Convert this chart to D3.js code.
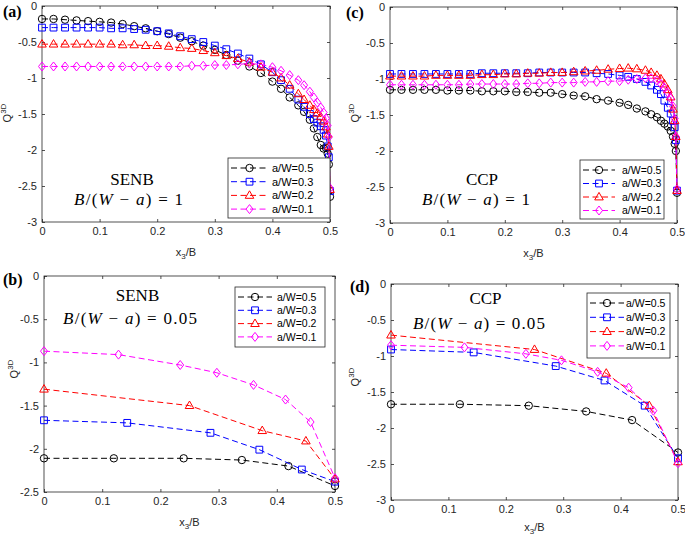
<!DOCTYPE html>
<html><head><meta charset="utf-8">
<script src="https://cdn.jsdelivr.net/npm/d3@7/dist/d3.min.js"></script>
<style>body{margin:0;background:#fff}svg{display:block}text{white-space:pre}</style>
</head><body>
<svg id="chart" width="685" height="539"></svg>
<script>
// ---------------- DATA ----------------
const seriesNames = ["a/W=0.5", "a/W=0.3", "a/W=0.2", "a/W=0.1"];
const xTicks = [0, 0.1, 0.2, 0.3, 0.4, 0.5];
const yTicks3 = [-3, -2.5, -2, -1.5, -1, -0.5, 0];
const yTicks25 = [-2.5, -2, -1.5, -1, -0.5, 0];

// panels (a) and (c): dense node positions x3/B
const xFine = [0, 0.02, 0.04, 0.06, 0.08, 0.10, 0.12, 0.14, 0.16, 0.18, 0.20, 0.22, 0.24, 0.26, 0.28, 0.30, 0.32, 0.34, 0.36, 0.38, 0.40,
  0.415, 0.43, 0.445, 0.455, 0.465, 0.472, 0.478, 0.484, 0.489, 0.493, 0.496, 0.498, 0.5];

// (a) SENB, B/(W-a)=1
const aQ05 = [-0.18, -0.18, -0.19, -0.20, -0.21, -0.22, -0.23, -0.25, -0.28, -0.31, -0.35, -0.39, -0.44, -0.49, -0.55, -0.61, -0.68, -0.76, -0.84, -0.93, -1.05,
  -1.15, -1.27, -1.38, -1.47, -1.58, -1.70, -1.82, -1.93, -1.98, -1.97, -2.05, -2.20, -2.65];
const aQ03 = [-0.30, -0.30, -0.30, -0.30, -0.30, -0.30, -0.31, -0.31, -0.32, -0.33, -0.35, -0.38, -0.42, -0.46, -0.50, -0.55, -0.60, -0.66, -0.73, -0.81, -0.92,
  -1.03, -1.15, -1.30, -1.40, -1.50, -1.57, -1.62, -1.67, -1.72, -1.80, -1.95, -2.10, -2.57];
const aQ02 = [-0.53, -0.53, -0.53, -0.53, -0.53, -0.53, -0.53, -0.54, -0.54, -0.55, -0.55, -0.56, -0.58, -0.59, -0.62, -0.65, -0.69, -0.73, -0.78, -0.85, -0.92,
  -1.00, -1.10, -1.22, -1.30, -1.38, -1.44, -1.49, -1.54, -1.60, -1.68, -1.78, -1.95, -2.55];
const aQ01 = [-0.84, -0.84, -0.84, -0.84, -0.84, -0.84, -0.84, -0.84, -0.84, -0.84, -0.84, -0.84, -0.84, -0.83, -0.83, -0.82, -0.82, -0.81, -0.80, -0.81, -0.85,
  -0.90, -0.96, -1.03, -1.10, -1.19, -1.27, -1.34, -1.41, -1.48, -1.56, -1.66, -1.82, -2.53];

// (c) CCP, B/(W-a)=1
const cQ05 = [-1.15, -1.15, -1.15, -1.15, -1.15, -1.16, -1.16, -1.16, -1.17, -1.17, -1.17, -1.18, -1.18, -1.19, -1.19, -1.21, -1.23, -1.24, -1.28, -1.30, -1.33,
  -1.36, -1.41, -1.45, -1.49, -1.53, -1.58, -1.62, -1.66, -1.72, -1.80, -1.90, -2.00, -2.58];
const cQ03 = [-0.93, -0.93, -0.93, -0.93, -0.93, -0.93, -0.93, -0.93, -0.92, -0.92, -0.92, -0.92, -0.92, -0.91, -0.91, -0.91, -0.91, -0.91, -0.92, -0.93, -0.95,
  -0.97, -1.00, -1.04, -1.09, -1.15, -1.21, -1.30, -1.40, -1.48, -1.58, -1.67, -1.85, -2.55];
const cQ02 = [-0.96, -0.96, -0.96, -0.96, -0.95, -0.95, -0.95, -0.95, -0.94, -0.94, -0.93, -0.93, -0.92, -0.92, -0.91, -0.91, -0.90, -0.89, -0.88, -0.865, -0.855,
  -0.85, -0.86, -0.88, -0.91, -0.95, -1.00, -1.07, -1.15, -1.25, -1.42, -1.58, -1.80, -2.55];
const cQ01 = [-1.08, -1.08, -1.08, -1.08, -1.08, -1.08, -1.08, -1.07, -1.07, -1.07, -1.07, -1.07, -1.06, -1.06, -1.05, -1.05, -1.05, -1.04, -1.04, -1.03, -1.03,
  -1.01, -1.00, -0.99, -0.99, -1.02, -1.07, -1.12, -1.19, -1.27, -1.38, -1.55, -1.80, -2.53];

// (b) SENB, B/(W-a)=0.05
const bX05 = [0, 0.12, 0.24, 0.34, 0.42, 0.5];
const bQ05 = [-2.11, -2.11, -2.11, -2.13, -2.20, -2.43];
const bX03 = [0, 0.143, 0.286, 0.37, 0.443, 0.5];
const bQ03 = [-1.67, -1.70, -1.815, -2.01, -2.24, -2.38];
const bX02 = [0, 0.25, 0.375, 0.45, 0.5];
const bQ02 = [-1.31, -1.50, -1.79, -1.91, -2.35];
const bX01 = [0, 0.128, 0.234, 0.297, 0.36, 0.415, 0.458, 0.5];
const bQ01 = [-0.87, -0.91, -1.03, -1.12, -1.26, -1.43, -1.69, -2.34];

// (d) CCP, B/(W-a)=0.05
const dX05 = [0, 0.12, 0.24, 0.34, 0.42, 0.5];
const dQ05 = [-1.67, -1.67, -1.69, -1.77, -1.89, -2.34];
const dX03 = [0, 0.144, 0.287, 0.372, 0.442, 0.5];
const dQ03 = [-0.91, -0.95, -1.14, -1.34, -1.69, -2.42];
const dX02 = [0, 0.25, 0.375, 0.45, 0.5];
const dQ02 = [-0.71, -0.91, -1.24, -1.69, -2.47];
const dX01 = [0, 0.128, 0.235, 0.297, 0.36, 0.414, 0.457, 0.5];
const dQ01 = [-0.85, -0.88, -0.97, -1.06, -1.22, -1.44, -1.76, -2.49];

// ---------------- STYLE / LAYOUT ----------------
const colors = ["#000000", "#0000ff", "#ff0000", "#ff00ff"];
const markerKinds = ["circle", "square", "triangle", "diamond"];

function markerPath(kind) {
  switch (kind) {
    case "circle": return "M3.7,0A3.7,3.7 0 1,1 -3.7,0A3.7,3.7 0 1,1 3.7,0Z";
    case "square": return "M-3.4,-3.4H3.4V3.4H-3.4Z";
    case "triangle": return "M0,-4.6L4.3,2.9H-4.3Z";
    case "diamond": return "M0,-4.5L3.5,0L0,4.5L-3.5,0Z";
  }
}

const panels = [
  { letter: "(a)", lx: 3, ly: 17, l: 42, r: 330, t: 6, b: 222, ydom: [-3, 0], yticks: yTicks3,
    series: [[xFine, aQ05], [xFine, aQ03], [xFine, aQ02], [xFine, aQ01]],
    name: "SENB", nameX: 132, nameY: 185, formula: "1", fX: 128.5, fY: 205, fW: 109,
    leg: { x: 228, y: 158, w: 102, h: 60, row: 13.7, len: 37, tx: 44, fs: 11 },
    ylabX: 11, ylabY: 113, xlabY: 256 },
  { letter: "(c)", lx: 346, ly: 18, l: 390, r: 677, t: 7, b: 223, ydom: [-3, 0], yticks: yTicks3,
    series: [[xFine, cQ05], [xFine, cQ03], [xFine, cQ02], [xFine, cQ01]],
    name: "CCP", nameX: 482, nameY: 185, formula: "1", fX: 476, fY: 205, fW: 108,
    leg: { x: 580, y: 160, w: 84, h: 59, row: 13.5, len: 32, tx: 42, fs: 10.5 },
    ylabX: 359, ylabY: 113, xlabY: 257 },
  { letter: "(b)", lx: 3, ly: 285, l: 44, r: 335, t: 276, b: 492, ydom: [-2.5, 0], yticks: yTicks25,
    series: [[bX05, bQ05], [bX03, bQ03], [bX02, bQ02], [bX01, bQ01]],
    name: "SENB", nameX: 137.5, nameY: 301, formula: "0.05", fX: 130, fY: 324, fW: 134,
    leg: { x: 235, y: 287, w: 90, h: 60, row: 13.3, len: 34, tx: 42, fs: 10.5 },
    ylabX: 18, ylabY: 369, xlabY: 526 },
  { letter: "(d)", lx: 350, ly: 292, l: 391, r: 678, t: 284, b: 500, ydom: [-3, 0], yticks: yTicks3,
    series: [[dX05, dQ05], [dX03, dQ03], [dX02, dQ02], [dX01, dQ01]],
    name: "CCP", nameX: 485.5, nameY: 304, formula: "0.05", fX: 479, fY: 329, fW: 132,
    leg: { x: 587, y: 293, w: 83, h: 65, row: 14.3, len: 34, tx: 39, fs: 10.5 },
    ylabX: 359, ylabY: 377, xlabY: 531 }
];

const svg = d3.select("#chart");
const sans = "'Liberation Sans', Arial, sans-serif";
const serif = "'Liberation Serif', 'Times New Roman', serif";

panels.forEach(p => {
  const x = d3.scaleLinear().domain([0, 0.5]).range([p.l, p.r]);
  const y = d3.scaleLinear().domain(p.ydom).range([p.b, p.t]);
  const g = svg.append("g");
  const fmt = d => String(d);

  // axes (ticks inward, mirrored)
  const axB = g.append("g").attr("transform", `translate(0,${p.b})`)
    .call(d3.axisBottom(x).tickValues(xTicks).tickSizeInner(-3).tickSizeOuter(0).tickPadding(5.5).tickFormat(fmt));
  const axT = g.append("g").attr("transform", `translate(0,${p.t})`)
    .call(d3.axisTop(x).tickValues(xTicks).tickSizeInner(-3).tickSizeOuter(0).tickFormat(""));
  const axL = g.append("g").attr("transform", `translate(${p.l},0)`)
    .call(d3.axisLeft(y).tickValues(p.yticks).tickSizeInner(-3).tickSizeOuter(0).tickPadding(5).tickFormat(fmt));
  const axR = g.append("g").attr("transform", `translate(${p.r},0)`)
    .call(d3.axisRight(y).tickValues(p.yticks).tickSizeInner(-3).tickSizeOuter(0).tickFormat(""));
  [axB, axT, axL, axR].forEach(a => {
    a.select(".domain").remove();
    a.selectAll("line").attr("stroke", "#262626").attr("stroke-width", 0.8);
    a.selectAll("text").attr("font-family", sans).attr("font-size", 11).attr("fill", "#262626");
  });
  g.append("rect").attr("x", p.l).attr("y", p.t).attr("width", p.r - p.l).attr("height", p.b - p.t)
    .attr("fill", "none").attr("stroke", "#262626").attr("stroke-width", 0.8);

  // data
  const line = d3.line().x(d => x(d[0])).y(d => y(d[1]));
  p.series.forEach((s, i) => {
    const pts = s[0].map((xv, k) => [xv, s[1][k]]);
    g.append("path").datum(pts).attr("d", line).attr("fill", "none")
      .attr("stroke", colors[i]).attr("stroke-width", 1).attr("stroke-dasharray", "6,3.5");
    g.selectAll(null).data(pts).enter().append("path")
      .attr("d", markerPath(markerKinds[i]))
      .attr("transform", d => `translate(${x(d[0])},${y(d[1])})`)
      .attr("fill", "none").attr("stroke", colors[i]).attr("stroke-width", 1);
  });

  // legend
  const L = p.leg;
  const lg = g.append("g");
  lg.append("rect").attr("x", L.x).attr("y", L.y).attr("width", L.w).attr("height", L.h)
    .attr("fill", "#fff").attr("stroke", "#262626").attr("stroke-width", 0.8);
  seriesNames.forEach((nm, i) => {
    const ry = L.y + 10 + i * L.row;
    const x0 = L.x + 3;
    lg.append("line").attr("x1", x0).attr("x2", x0 + L.len).attr("y1", ry).attr("y2", ry)
      .attr("stroke", colors[i]).attr("stroke-width", 1).attr("stroke-dasharray", "6,3.5");
    lg.append("path").attr("d", markerPath(markerKinds[i]))
      .attr("transform", `translate(${x0 + L.len / 2},${ry})`)
      .attr("fill", "none").attr("stroke", colors[i]).attr("stroke-width", 1);
    lg.append("text").attr("x", L.x + L.tx).attr("y", ry + 3.8).text(nm)
      .attr("font-family", sans).attr("font-size", L.fs).attr("fill", "#000");
  });

  // panel letter
  svg.append("text").attr("x", p.lx).attr("y", p.ly).text(p.letter)
    .attr("font-family", serif).attr("font-weight", "bold").attr("font-size", 16);

  // annotations
  svg.append("text").attr("x", p.nameX).attr("y", p.nameY).attr("text-anchor", "middle")
    .attr("font-family", serif).attr("font-size", 17).text(p.name);
  const f = svg.append("text").attr("x", p.fX).attr("y", p.fY).attr("text-anchor", "middle")
    .attr("font-family", serif).attr("font-size", 17)
    .attr("textLength", p.fW).attr("lengthAdjust", "spacing");
  f.append("tspan").attr("font-style", "italic").text("B");
  f.append("tspan").text("/(");
  f.append("tspan").attr("font-style", "italic").text("W");
  f.append("tspan").text(" \u2212 ");
  f.append("tspan").attr("font-style", "italic").text("a");
  f.append("tspan").text(") = " + p.formula);

  // axis labels
  const yl = svg.append("text").attr("transform", `translate(${p.ylabX},${p.ylabY}) rotate(-90)`)
    .attr("text-anchor", "middle").attr("font-family", sans).attr("font-size", 11).attr("fill", "#262626");
  yl.append("tspan").text("Q");
  yl.append("tspan").attr("font-size", 8).attr("dy", -5).text("3D");
  const xl = svg.append("text").attr("x", (p.l + p.r) / 2).attr("y", p.xlabY)
    .attr("text-anchor", "middle").attr("font-family", sans).attr("font-size", 11).attr("fill", "#262626");
  xl.append("tspan").text("x");
  xl.append("tspan").attr("font-size", 8).attr("dy", 3).text("3");
  xl.append("tspan").attr("dy", -3).text("/B");
});
</script>
</body></html>
